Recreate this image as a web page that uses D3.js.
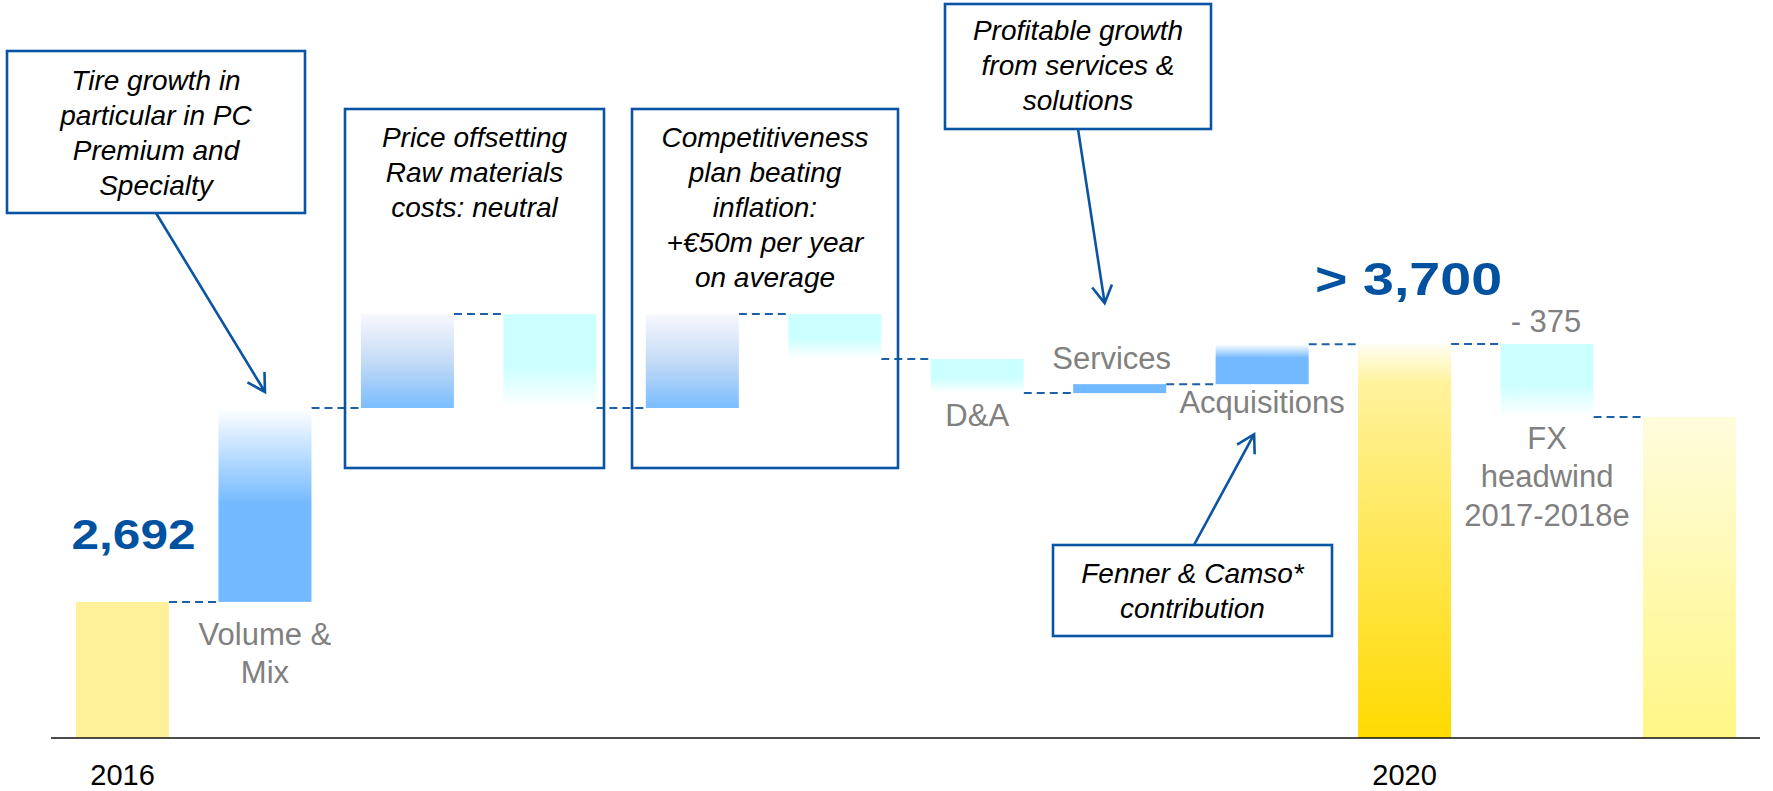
<!DOCTYPE html>
<html>
<head>
<meta charset="utf-8">
<script src="https://cdn.jsdelivr.net/npm/d3@7"></script>
<style>
  body { margin: 0; background: #fff; }
  svg { display: block; font-family: "Liberation Sans", Arial, sans-serif; }
</style>
</head>
<body>
<svg id="chart"></svg>
<script>
// waterfall steps (chart units, axis is truncated like the original slide)
const categories = ["2016", "Volume & Mix", "Price", "Raw materials", "Competitiveness", "Inflation",
                    "D&A", "Services", "Acquisitions", "2020", "FX", "2020 after FX"];
const steps = [2692, 758, 367, -367, 367, -176, -133, 35, 156, null, -285, null];
const kinds = ["start", "up", "soft", "down", "soft", "down", "down", "solid", "acq", "total", "down", "final"];
const tickLabels = ["2016", "", "", "", "", "", "", "", "", "2020", "", ""];
const barLabels = [[], ["Volume &", "Mix"], [], [], [], [], ["D&A"], ["Services"], ["Acquisitions"], [], ["FX", "headwind", "2017-2018e"], []];
const valueLabels = ["2,692", "", "", "", "", "", "", "", "", "> 3,700", "- 375", ""];

const noteTire = ["Tire growth in", "particular in PC", "Premium and", "Specialty"];
const notePrice = ["Price offsetting", "Raw materials", "costs: neutral"];
const noteComp = ["Competitiveness", "plan beating", "inflation:", "+€50m per year", "on average"];
const noteServices = ["Profitable growth", "from services &", "solutions"];
const noteAcq = ["Fenner & Camso*", "contribution"];

const width = 1773, height = 791;
const blue = "#0a55a3";

const svg = d3.select("#chart").attr("width", width).attr("height", height);
const defs = svg.append("defs");

function grad(id, stops) {
  const g = defs.append("linearGradient").attr("id", id)
    .attr("x1", 0).attr("y1", 0).attr("x2", 0).attr("y2", 1);
  stops.forEach(s => g.append("stop").attr("offset", s[0]).attr("stop-color", s[1]));
}
grad("g-up", [[0, "#ffffff"], [0.5, "#72b9ff"], [1, "#72b9ff"]]);
grad("g-soft", [[0, "#f8f8fe"], [0.5, "#c5dbf6"], [1, "#7abdff"]]);
grad("g-down", [[0, "#ccffff"], [0.55, "#ccffff"], [1, "#ffffff"]]);
grad("g-acq", [[0, "#ffffff"], [0.35, "#72b9ff"], [1, "#72b9ff"]]);
grad("g-total", [[0, "#fffef4"], [0.1, "#fff29c"], [1, "#ffda00"]]);
grad("g-final", [[0, "#fffcdc"], [1, "#fff785"]]);

const fills = {
  start: "#fff199", up: "url(#g-up)", soft: "url(#g-soft)", down: "url(#g-down)",
  solid: "#70b8ff", acq: "url(#g-acq)", total: "url(#g-total)", final: "url(#g-final)"
};

// running totals
let run = 0;
const bars = categories.map((c, i) => {
  let start, end;
  if (i === 0) { start = null; end = steps[0]; }
  else if (steps[i] === null) { start = null; end = (kinds[i] === "total") ? 3700 : run; }
  else { start = run; end = run + steps[i]; }
  run = end;
  return { cat: c, i, start, end, kind: kinds[i] };
});

const x = d3.scaleBand().domain(categories).range([76, 1736]).paddingInner(0.347).paddingOuter(0);
const y = d3.scaleLinear().domain([2160, 3700]).range([738, 344]);
const base = y.range()[0];

const barTop = d => y(d.start === null ? d.end : Math.max(d.start, d.end));
const barBot = d => d.start === null ? base : y(Math.min(d.start, d.end));

// connectors
const links = bars.slice(0, -1).map((d, i) => ({ x1: x(d.cat) + x.bandwidth(), x2: x(bars[i + 1].cat), v: d.end }));
svg.append("g").selectAll("line").data(links).join("line")
  .attr("x1", d => d.x1).attr("x2", d => d.x2)
  .attr("y1", d => y(d.v)).attr("y2", d => y(d.v))
  .attr("stroke", "#1d5fa8").attr("stroke-width", 2).attr("stroke-dasharray", "8,5");

// bars
svg.append("g").selectAll("rect").data(bars).join("rect")
  .attr("x", d => x(d.cat))
  .attr("width", x.bandwidth())
  .attr("y", barTop)
  .attr("height", d => barBot(d) - barTop(d))
  .attr("fill", d => fills[d.kind]);

// baseline + year ticks
svg.append("line").attr("x1", 51).attr("x2", 1760).attr("y1", base).attr("y2", base)
  .attr("stroke", "#111").attr("stroke-width", 1.5);
const axis = svg.append("g").attr("transform", `translate(0,${base})`)
  .call(d3.axisBottom(x).tickSize(0).tickFormat((d, i) => tickLabels[i]));
axis.select(".domain").remove();
axis.selectAll("text").attr("y", 47).attr("dy", 0)
  .style("font-size", "29px").style("font-family", "Liberation Sans, Arial, sans-serif").attr("fill", "#000");

// gray category labels (offset from bar edge)
const labelPos = [null, ["bottom", 43], null, null, null, null, ["bottom", 33], ["top", -15], ["bottom", 29], null, ["bottom", 32], null];
bars.forEach((d, i) => {
  const lines = barLabels[i];
  if (!lines.length) return;
  const p = labelPos[i];
  const y0 = p[0] === "bottom" ? barBot(d) + p[1] : barTop(d) + p[1];
  const t = svg.append("text").attr("text-anchor", "middle").attr("fill", "#808080")
    .style("font-size", "31px");
  lines.forEach((l, k) => t.append("tspan")
    .attr("x", x(d.cat) + x.bandwidth() / 2 + (i === 7 ? -8 : 0))
    .attr("y", y0 + k * 38.5).text(l));
});

// value labels
const valueStyle = [
  { i: 0, dx: 11, dy: -53, size: 43, len: 124, bold: true },
  { i: 9, dx: 4, dy: -49, size: 46, len: 187, bold: true },
  { i: 10, dx: -1, dy: -12, size: 31, len: 0, bold: false }
];
valueStyle.forEach(s => {
  const d = bars[s.i];
  const t = svg.append("text")
    .attr("x", x(d.cat) + x.bandwidth() / 2 + s.dx)
    .attr("y", barTop(d) + s.dy)
    .attr("text-anchor", "middle")
    .attr("fill", s.bold ? "#00519f" : "#808080")
    .style("font-size", s.size + "px")
    .style("font-weight", s.bold ? "bold" : "normal")
    .text(valueLabels[s.i]);
  if (s.len) t.attr("textLength", s.len).attr("lengthAdjust", "spacingAndGlyphs");
});

// annotation boxes
const notes = [
  { lines: noteTire, x: 7, y: 51, w: 298, h: 162, first: 39, from: [156, 213], target: 1, edge: "top", tip: [0, -16] },
  { lines: notePrice, x: 345, y: 109, w: 259, h: 359, first: 38 },
  { lines: noteComp, x: 632, y: 109, w: 266, h: 359, first: 38 },
  { lines: noteServices, x: 945, y: 4, w: 266, h: 125, first: 36, from: [1078, 129], target: 7, edge: "top", tip: [-15, -81] },
  { lines: noteAcq, x: 1053, y: 545, w: 279, h: 91, first: 38, from: [1194, 545], target: 8, edge: "bottom", tip: [-8, 50] }
];

const ng = svg.append("g");
notes.forEach(n => {
  ng.append("rect").attr("x", n.x).attr("y", n.y).attr("width", n.w).attr("height", n.h)
    .attr("fill", "none").attr("stroke", blue).attr("stroke-width", 2.6);
  const t = ng.append("text").attr("text-anchor", "middle").attr("fill", "#000")
    .style("font-size", "28px").style("font-style", "italic");
  n.lines.forEach((l, k) => t.append("tspan").attr("x", n.x + n.w / 2).attr("y", n.y + n.first + k * 35).text(l));

  if (n.from) {
    const d = bars[n.target];
    const tx = x(d.cat) + x.bandwidth() / 2 + n.tip[0];
    const ty = (n.edge === "top" ? barTop(d) : barBot(d)) + n.tip[1];
    const a = Math.atan2(ty - n.from[1], tx - n.from[0]);
    const L = 20, sp = Math.PI / 6;
    const p = d3.path();
    p.moveTo(n.from[0], n.from[1]); p.lineTo(tx, ty);
    p.moveTo(tx - L * Math.cos(a - sp), ty - L * Math.sin(a - sp)); p.lineTo(tx, ty);
    p.lineTo(tx - L * Math.cos(a + sp), ty - L * Math.sin(a + sp));
    ng.append("path").attr("d", p.toString()).attr("fill", "none")
      .attr("stroke", blue).attr("stroke-width", 2.6);
  }
});
</script>
</body>
</html>
